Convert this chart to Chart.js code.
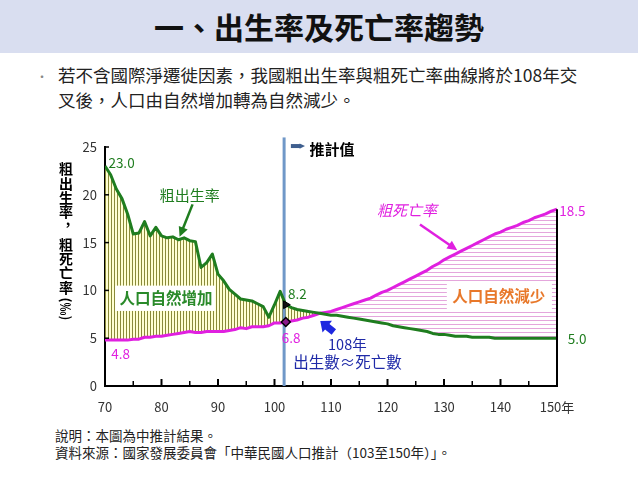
<!DOCTYPE html>
<html><head><meta charset="utf-8">
<script src="https://cdn.jsdelivr.net/npm/chart.js@4/dist/chart.umd.min.js"></script>
<style>
body{margin:0;width:638px;height:479px;overflow:hidden;background:#fff;font-family:'Noto Sans CJK TC','Noto Sans',sans-serif;position:relative;}
#band{position:absolute;left:0;top:0;width:638px;height:53px;background:#D9DEF0;}
#title{position:absolute;left:0;top:0;width:638px;height:53px;line-height:53px;text-align:center;font-size:30px;font-weight:bold;color:#111;}
#bullet{position:absolute;left:36px;top:64px;font-size:12px;line-height:25px;color:#888;}
#lead{position:absolute;left:58px;top:62px;width:560px;font-size:17.5px;line-height:25px;color:#222;}
#note{position:absolute;left:55px;top:427px;font-size:13.5px;line-height:17px;color:#222;}
canvas{position:absolute;left:0;top:0;}
</style></head>
<body>
<div id="band"></div>
<div id="title">一、出生率及死亡率趨勢</div>
<div id="bullet">•</div>
<div id="lead">若不含國際淨遷徙因素，我國粗出生率與粗死亡率曲線將於108年交<br>叉後，人口由自然增加轉為自然減少。</div>
<div id="note">說明：本圖為中推計結果。<br>資料來源：國家發展委員會「中華民國人口推計（103至150年）」。</div>
<canvas id="c" width="638" height="479"></canvas>
<script>
const years = [70,71,72,73,74,75,76,77,78,79,80,81,82,83,84,85,86,87,88,89,90,91,92,93,94,95,96,97,98,99,100,101,102,
  103,104,105,106,107,108,109,110,111,112,113,114,115,116,117,118,119,120,121,122,123,124,125,126,127,128,129,130,
  131,132,133,134,135,136,137,138,139,140,141,142,143,144,145,146,147,148,149,150];
const birthRate = [23.0,22.1,20.6,19.6,18.0,15.9,16.0,17.2,15.7,16.6,15.7,15.5,15.6,15.3,15.5,15.2,15.1,12.4,12.9,13.8,
  11.7,11.0,10.1,9.6,9.1,9.0,8.9,8.6,8.3,7.2,8.5,9.9,8.5,
  8.2,8.0,7.9,7.8,7.7,7.6,7.5,7.4,7.4,7.3,
  7.2,7.1,7.0,6.9,6.8,6.7,6.6,6.5,6.3,6.2,
  6.1,6.0,5.9,5.8,5.7,5.5,5.4,5.4,5.3,5.2,
  5.2,5.2,5.1,5.1,5.1,5.1,5.0,5.0,5.0,5.0,
  5.0,5.0,5.0,5.0,5.0,5.0,5.0,5.0];
const deathRate = [4.8,4.8,4.8,4.8,4.8,4.9,4.9,5.1,5.1,5.2,5.2,5.3,5.4,5.5,5.6,5.7,5.6,5.6,5.7,5.7,
  5.7,5.7,5.8,5.9,6.1,6.0,6.2,6.2,6.2,6.3,6.6,6.6,6.7,
  6.8,6.9,7.1,7.2,7.4,7.6,7.7,7.8,8.0,8.2,
  8.4,8.6,8.8,9.0,9.2,9.5,9.8,10.0,10.3,10.6,
  10.9,11.2,11.5,11.8,12.1,12.5,12.8,13.2,13.5,13.8,
  14.1,14.4,14.7,15.0,15.3,15.6,15.9,16.1,16.4,16.6,
  16.8,17.1,17.3,17.6,17.8,18.0,18.3,18.5];
const xTicks = [70,80,90,100,110,120,130,140,150];
const xTickLabels = ['70','80','90','100','110','120','130','140','150年'];
const yTicks = [0,5,10,15,20,25];
const markerYear = 102;
const projectionLineYear = 101.7;
const yTitleTop = ['粗','出','生','率',','];
const yTitleBottom = ['粗','死','亡','率'];

const GREEN = '#1F7D1F', MAGENTA = '#E020E0', FONT = "'Noto Sans CJK TC','Noto Sans',sans-serif";

function makePattern(w, h, bg, line, vertical) {
  const c = document.createElement('canvas'); c.width = w; c.height = h;
  const g = c.getContext('2d');
  g.fillStyle = bg; g.fillRect(0, 0, w, h);
  g.fillStyle = line;
  if (vertical) g.fillRect(0, 0, 1, h); else g.fillRect(0, 0, w, 1);
  return g.createPattern(c, 'repeat');
}
const ctx0 = document.getElementById('c').getContext('2d');
const yellowHatch = makePattern(3, 4, '#FFFFD2', '#8A8A3A', true);
const pinkHatch = makePattern(4, 4, '#FFFFFF', '#E4A6DC', false);

function arrow(ctx, x1, y1, x2, y2, color, w, head) {
  const a = Math.atan2(y2 - y1, x2 - x1);
  ctx.strokeStyle = color; ctx.fillStyle = color; ctx.lineWidth = w;
  ctx.beginPath(); ctx.moveTo(x1, y1);
  ctx.lineTo(x2 - Math.cos(a) * head * 0.8, y2 - Math.sin(a) * head * 0.8); ctx.stroke();
  ctx.beginPath(); ctx.moveTo(x2, y2);
  ctx.lineTo(x2 - head * Math.cos(a - 0.45), y2 - head * Math.sin(a - 0.45));
  ctx.lineTo(x2 - head * Math.cos(a + 0.45), y2 - head * Math.sin(a + 0.45));
  ctx.closePath(); ctx.fill();
}
function fatArrow(ctx, x1, y1, x2, y2, color, bodyW, headW, headL) {
  const a = Math.atan2(y2 - y1, x2 - x1), len = Math.hypot(x2 - x1, y2 - y1);
  ctx.save(); ctx.translate(x1, y1); ctx.rotate(a);
  ctx.fillStyle = color; ctx.beginPath();
  ctx.moveTo(0, -bodyW / 2); ctx.lineTo(len - headL, -bodyW / 2); ctx.lineTo(len - headL, -headW / 2);
  ctx.lineTo(len, 0); ctx.lineTo(len - headL, headW / 2); ctx.lineTo(len - headL, bodyW / 2); ctx.lineTo(0, bodyW / 2);
  ctx.closePath(); ctx.fill(); ctx.restore();
}
function text(ctx, s, x, y, color, size, opts = {}) {
  ctx.font = `${opts.style || ''} ${opts.weight || 'normal'} ${size}px ${FONT}`;
  ctx.fillStyle = color; ctx.textAlign = opts.align || 'left'; ctx.textBaseline = 'middle';
  ctx.fillText(s, x, y);
}

const annot = {
  id: 'annot',
  beforeDatasetsDraw(chart) {
    const { ctx, scales: { x, y } } = chart;
    ctx.save();
    const px = x.getPixelForValue(projectionLineYear);
    ctx.strokeStyle = '#7098C8'; ctx.lineWidth = 3;
    ctx.beginPath(); ctx.moveTo(px, y.getPixelForValue(26)); ctx.lineTo(px, y.getPixelForValue(0)); ctx.stroke();
    ctx.restore();
  },
  afterDatasetsDraw(chart) {
    const { ctx, scales: { x, y } } = chart;
    const X = v => x.getPixelForValue(v), Y = v => y.getPixelForValue(v);
    ctx.save();
    const last = years.length - 1;
    ctx.strokeStyle = '#000'; ctx.lineWidth = 2;
    ctx.beginPath(); ctx.moveTo(X(years[last]), Y(deathRate[last])); ctx.lineTo(X(years[last]), Y(0)); ctx.stroke();
    for (let v = 75; v <= 150; v += 5) {
      const major = v % 10 === 0;
      ctx.lineWidth = major ? 2 : 1.5;
      ctx.beginPath(); ctx.moveTo(X(v), Y(0)); ctx.lineTo(X(v), Y(0) - (major ? 7 : 5)); ctx.stroke();
    }
    ctx.lineWidth = 1.5;
    yTicks.forEach(v => { if (v > 0) { ctx.beginPath(); ctx.moveTo(X(70), Y(v)); ctx.lineTo(X(70) + 4, Y(v)); ctx.stroke(); } });

    text(ctx, '23.0', X(70.6), Y(23.3), GREEN, 13.5);
    text(ctx, '4.8', X(71.1), Y(3.4), MAGENTA, 13.5);
    text(ctx, '8.2', X(102.4), Y(9.6), GREEN, 13.5);
    text(ctx, '6.8', X(101.3), Y(5.0), MAGENTA, 13.5);
    text(ctx, '18.5', X(150.4), Y(18.35), MAGENTA, 13.5);
    text(ctx, '5.0', X(151.9), Y(4.9), GREEN, 13.5);

    text(ctx, '粗出生率', X(85.0), Y(19.9), GREEN, 15, { align: 'center' });
    arrow(ctx, X(85.5), Y(19.0), X(83.2), Y(15.6), GREEN, 2.5, 11);
    text(ctx, '粗死亡率', X(123.45), Y(18.4), MAGENTA, 15, { align: 'center', style: 'italic' });
    arrow(ctx, X(125.75), Y(16.9), X(132.35), Y(14.2), MAGENTA, 2.5, 11);

    ctx.fillStyle = '#fff';
    ctx.fillRect(X(71.8), Y(10.5), X(89.5) - X(71.8), Y(7.85) - Y(10.5));
    text(ctx, '人口自然增加', X(80.8), Y(9.2), '#2A8A2A', 15.5, { align: 'center', weight: 'bold' });
    ctx.fillStyle = '#fff';
    ctx.fillRect(X(130.5), Y(10.8), X(149.1) - X(130.5), Y(8.05) - Y(10.8));
    text(ctx, '人口自然減少', X(139.7), Y(9.4), '#E8782A', 15.5, { align: 'center', weight: 'bold' });

    fatArrow(ctx, X(110.5), Y(5.65), X(108.1), Y(6.8), '#1E28E0', 7, 15, 9);
    text(ctx, '108年', X(112.9), Y(4.3), '#1F2AA8', 14.5, { align: 'center' });
    text(ctx, '出生數≈死亡數', X(112.9), Y(2.5), '#1F2AA8', 15.5, { align: 'center' });

    arrow(ctx, X(102.9), Y(25.1), X(105.4), Y(25.1), '#3F5F8F', 4, 6);
    text(ctx, '推計值', X(106.2), Y(24.8), '#000', 15, { weight: 'bold' });

    ctx.font = `bold 14px ${FONT}`; ctx.fillStyle = '#000'; ctx.textAlign = 'center'; ctx.textBaseline = 'middle';
    const tx = 66;
    [169, 184, 198, 212, 220].forEach((py, i) => ctx.fillText(yTitleTop[i], tx + (i === 4 ? 2 : 0), py));
    [245, 259, 273, 288].forEach((py, i) => ctx.fillText(yTitleBottom[i], tx, py));
    ctx.save(); ctx.translate(tx, 309); ctx.rotate(Math.PI / 2);
    ctx.font = `bold 13px ${FONT}`; ctx.fillText('(‰)', 0, 0); ctx.restore();
    ctx.restore();
  }
};

new Chart(ctx0, {
  type: 'line',
  data: {
    datasets: [
      {
        label: '粗出生率',
        data: years.map((yr, i) => ({ x: yr, y: birthRate[i] })),
        borderColor: GREEN, borderWidth: 3, tension: 0, borderJoinStyle: 'round',
        fill: { target: 1, above: yellowHatch, below: pinkHatch },
        pointStyle: 'triangle', rotation: 90,
        pointRadius: c => years[c.dataIndex] === markerYear ? 4.5 : 0,
        pointBackgroundColor: '#111', pointBorderColor: '#000', pointBorderWidth: 1
      },
      {
        label: '粗死亡率',
        data: years.map((yr, i) => ({ x: yr, y: deathRate[i] })),
        borderColor: MAGENTA, borderWidth: 3, tension: 0, borderJoinStyle: 'round', fill: false,
        pointStyle: 'rectRot',
        pointRadius: c => years[c.dataIndex] === markerYear ? 4.5 : 0,
        pointBackgroundColor: '#8A1A8A', pointBorderColor: '#000', pointBorderWidth: 1.5
      }
    ]
  },
  options: {
    responsive: false, animation: false, events: [],
    layout: { padding: { left: 0, top: 147, right: 81, bottom: 0 } },
    plugins: { legend: { display: false }, title: { display: false }, tooltip: { enabled: false }, filler: { drawTime: 'beforeDatasetsDraw' } },
    scales: {
      x: {
        type: 'linear', min: 70, max: 150,
        afterBuildTicks: s => { s.ticks = xTicks.map(v => ({ value: v })); },
        afterFit: s => { s.height = 93; s.paddingLeft = 0; s.paddingRight = 0; },
        grid: { display: false, drawTicks: false },
        border: { display: true, color: '#000', width: 2 },
        ticks: { padding: 13, color: '#333', font: { family: FONT, size: 13 }, maxRotation: 0,
          callback: v => xTickLabels[xTicks.indexOf(v)] }
      },
      y: {
        min: 0, max: 25,
        afterBuildTicks: s => { s.ticks = yTicks.map(v => ({ value: v })); },
        afterFit: s => { s.width = 105; s.paddingTop = 0; s.paddingBottom = 0; },
        grid: { display: false, drawTicks: false },
        border: { display: true, color: '#000', width: 2 },
        ticks: { padding: 8, color: '#333', font: { family: FONT, size: 13 } }
      }
    }
  },
  plugins: [annot]
});
</script>
</body></html>
